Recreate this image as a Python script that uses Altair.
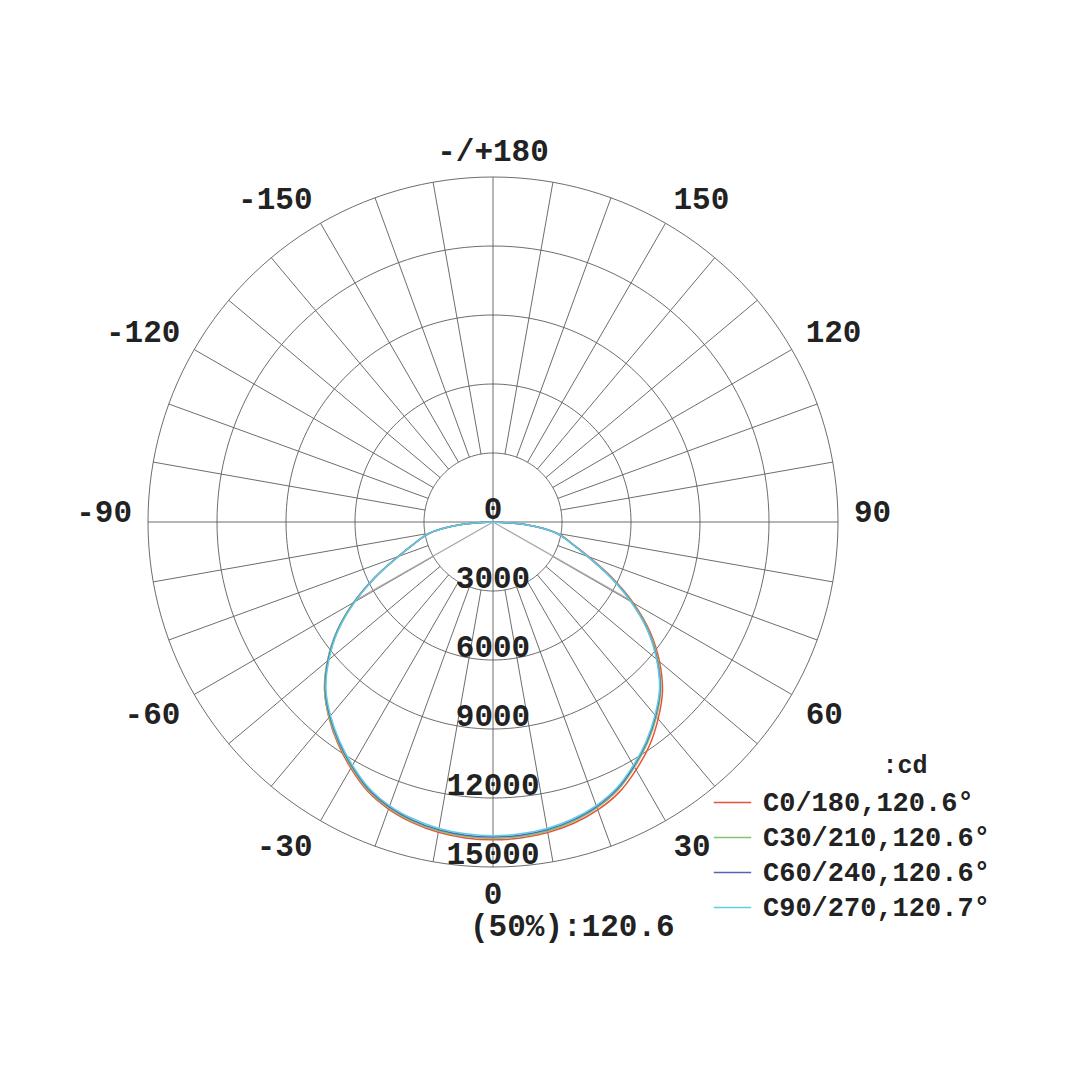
import math
import altair as alt
import pandas as pd

# ---------------- data ----------------
GAMMA = [0, 5, 10, 15, 20, 25, 30, 35, 40, 45, 50, 55, 60, 65, 70, 75, 80, 85, 90]

C0 = [13820, 13790, 13710, 13560, 13320, 12970, 12440, 11860, 11170, 10420, 9450, 8340, 7050, 5690, 4440, 3530, 2830, 1520, 0]
C180 = [13820, 13790, 13700, 13530, 13280, 12910, 12360, 11760, 11100, 10350, 9380, 8270, 6970, 5620, 4380, 3490, 2800, 1500, 0]
C30 = [13760, 13730, 13650, 13480, 13230, 12860, 12310, 11720, 11060, 10320, 9360, 8270, 6990, 5650, 4400, 3510, 2820, 1510, 0]
C210 = [13760, 13730, 13640, 13480, 13230, 12860, 12310, 11720, 11080, 10360, 9400, 8300, 7000, 5640, 4390, 3500, 2810, 1510, 0]
C60 = [13700, 13670, 13590, 13420, 13170, 12800, 12250, 11660, 11000, 10270, 9310, 8220, 6940, 5610, 4380, 3490, 2810, 1500, 0]
C240 = [13700, 13670, 13590, 13430, 13180, 12810, 12260, 11670, 11030, 10310, 9350, 8250, 6960, 5620, 4390, 3500, 2810, 1510, 0]
C90 = [13640, 13610, 13530, 13370, 13120, 12750, 12210, 11620, 10960, 10240, 9280, 8200, 6920, 5600, 4370, 3480, 2800, 1500, 0]
C270 = [13640, 13610, 13530, 13370, 13130, 12760, 12220, 11630, 10990, 10270, 9310, 8220, 6940, 5610, 4380, 3490, 2800, 1500, 0]

SERIES = ["C0/180,120.6°", "C30/210,120.6°", "C60/240,120.6°", "C90/270,120.7°"]
RIGHT = [C0, C30, C60, C90]
LEFT = [C180, C210, C240, C270]
COLORS = ["#e8523c", "#88c46f", "#5464b4", "#62cce2"]

RINGS = [3000, 6000, 9000, 12000, 15000]
VALUE_LABELS = ["0", "3000", "6000", "9000", "12000", "15000"]
VALUE_POS = [0, 3000, 6000, 9000, 12000, 15000]
ANGLE_LABELS = ["0", "30", "60", "90", "120", "150", "-/+180", "-150", "-120", "-90", "-60", "-30"]
ANGLE_POS = [0, 30, 60, 90, 120, 150, 180, -150, -120, -90, -60, -30]
SPOKES = list(range(0, 360, 10))
BEAM_HALF = 60.3
HALF_INT = 6900

# ---------------- geometry ----------------
W = 1064
K = 345.0 / 15000.0          # px per cd
CXP, CYP = 485.0, 514.0      # centre in plot px
XMIN, XMAX = -CXP / K, (W - CXP) / K
YMAX, YMIN = CYP / K, -(W - CYP) / K
R_LABEL = 361.0 / K
FONT = "Liberation Mono"
CAP = 21                     # px shift for labels hanging below their anchor


def pol(r, a):
    t = math.radians(a)
    return r * math.sin(t), -r * math.cos(t)


xs = alt.Scale(domain=[XMIN, XMAX], nice=False, zero=False)
ys = alt.Scale(domain=[YMIN, YMAX], nice=False, zero=False)
X = alt.X("x:Q", scale=xs, axis=None)
Y = alt.Y("y:Q", scale=ys, axis=None)

# rings
ring_rows = []
for r in RINGS:
    for a in range(0, 361, 2):
        x, y = pol(r, a)
        ring_rows.append({"ring": r, "ang": a, "x": x, "y": y})
ring_df = pd.DataFrame(ring_rows)

# spokes
spoke_rows = []
for a in SPOKES:
    r0 = 0 if a % 90 == 0 else RINGS[0]
    x1, y1 = pol(r0, a)
    x2, y2 = pol(RINGS[-1], a)
    spoke_rows.append({"x": x1, "y": y1, "x2": x2, "y2": y2})
spoke_df = pd.DataFrame(spoke_rows)

# beam lines
beam_rows = []
for a in (BEAM_HALF, -BEAM_HALF):
    x2, y2 = pol(HALF_INT, a)
    beam_rows.append({"x": 0.0, "y": 0.0, "x2": x2, "y2": y2})
beam_df = pd.DataFrame(beam_rows)

# curves
curve_rows = []
for si, name in enumerate(SERIES):
    idx = 0
    for g, v in zip(GAMMA[::-1], LEFT[si][::-1]):
        x, y = pol(v, -g)
        curve_rows.append({"series": name, "idx": idx, "x": x, "y": y})
        idx += 1
    for g, v in zip(GAMMA[1:], RIGHT[si][1:]):
        x, y = pol(v, g)
        curve_rows.append({"series": name, "idx": idx, "x": x, "y": y})
        idx += 1
curve_df = pd.DataFrame(curve_rows)

# labels
val_df = pd.DataFrame({"label": VALUE_LABELS, "x": [0.0] * len(VALUE_POS), "y": [-v for v in VALUE_POS]})
ang_rows = []
for lab, a in zip(ANGLE_LABELS, ANGLE_POS):
    x, y = pol(R_LABEL, a)
    side = "c" if a in (0, 180) else ("r" if a > 0 else "l")
    lower = abs(a) < 90
    ang_rows.append({"label": lab, "x": x, "y": y, "side": side, "lower": lower})
ang_df = pd.DataFrame(ang_rows)

# ---------------- layers ----------------
rings = alt.Chart(ring_df).mark_line(color="#5c5c5c", strokeWidth=0.9).encode(
    x=X, y=Y, detail="ring:N", order="ang:Q")
spokes = alt.Chart(spoke_df).mark_rule(color="#5c5c5c", strokeWidth=0.9).encode(
    x=X, y=Y, x2="x2:Q", y2="y2:Q")
beams = alt.Chart(beam_df).mark_rule(color="#a8a8a8", strokeWidth=1.2).encode(
    x=X, y=Y, x2="x2:Q", y2="y2:Q")

curves = alt.Chart(curve_df).mark_line(strokeWidth=1.5, interpolate="catmull-rom").encode(
    x=X, y=Y, order="idx:Q",
    color=alt.Color(
        "series:N",
        scale=alt.Scale(domain=SERIES, range=COLORS),
        sort=SERIES,
        legend=alt.Legend(
            orient="none", legendX=705, legendY=775, title=None,
            symbolType="stroke", symbolSize=1400, symbolStrokeWidth=1.5,
            labelFont=FONT, labelFontSize=27, labelFontWeight="bold", labelColor="#222222",
            labelOffset=11, rowPadding=2, padding=0, labelLimit=400,
        ),
    ),
)

vals = alt.Chart(val_df).mark_text(
    font=FONT, fontSize=31, fontWeight="bold", color="#222222",
    align="center", baseline="alphabetic", dy=-3,
).encode(x=X, y=Y, text="label:N")

ang_layers = []
for side, align in (("c", "center"), ("r", "left"), ("l", "right")):
    for lower in (True, False):
        ang_layers.append(
            alt.Chart(ang_df).transform_filter(
                f"datum.side == '{side}' && datum.lower == {'true' if lower else 'false'}"
            ).mark_text(
                font=FONT, fontSize=31, fontWeight="bold", color="#222222",
                align=align, baseline="alphabetic", dy=CAP if lower else 0,
            ).encode(x=X, y=Y, text="label:N")
        )

cd_txt = alt.Chart(pd.DataFrame({"t": [":cd"]})).mark_text(
    font=FONT, fontSize=25, fontWeight="bold", color="#222222",
    align="center", baseline="middle",
).encode(x=alt.value(897), y=alt.value(757), text="t:N")

half_txt = alt.Chart(pd.DataFrame({"t": ["(50%):120.6"]})).mark_text(
    font=FONT, fontSize=31, fontWeight="bold", color="#222222",
    align="left", baseline="middle",
).encode(x=alt.value(462), y=alt.value(919), text="t:N")

chart = alt.layer(rings, spokes, beams, curves, vals, *ang_layers, cd_txt, half_txt).properties(
    width=W, height=W, padding=0,
    autosize=alt.AutoSizeParams(type="none"),
    background="white",
).configure_view(stroke=None)

chart.save("out.html", embed_options={"renderer": "svg", "actions": False})
